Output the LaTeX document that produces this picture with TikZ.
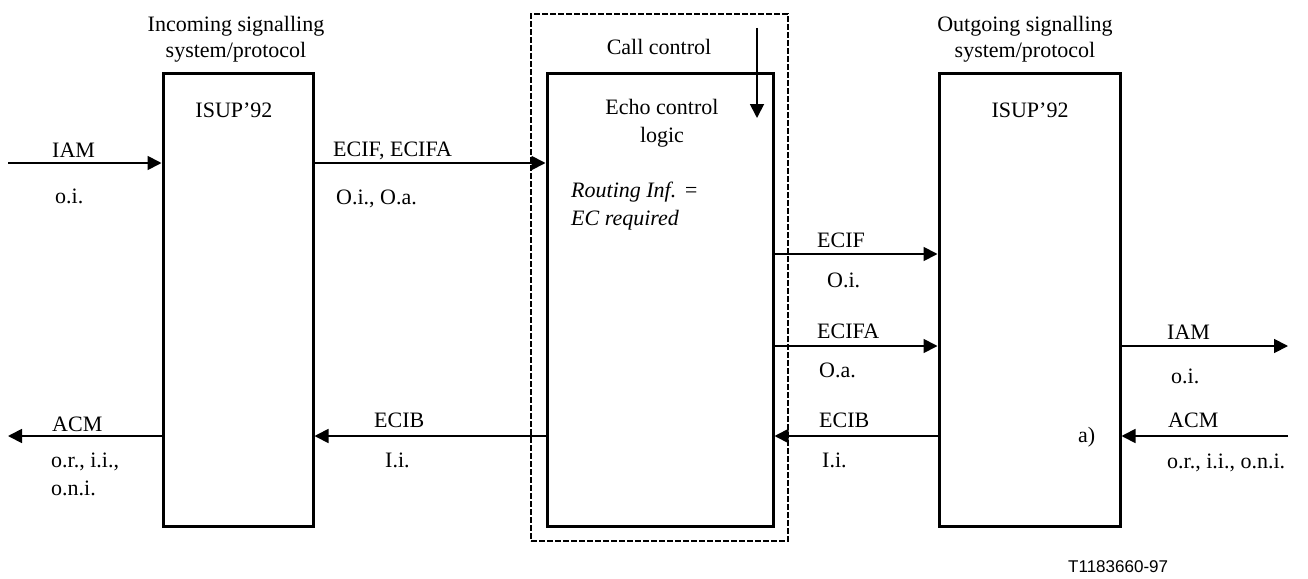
\documentclass[tikz,border=0pt]{standalone}
\usepackage{fontspec}
\setmainfont{Liberation Serif}
\newfontfamily\labsans{Liberation Sans}
\usetikzlibrary{arrows.meta}
\tikzset{
  blk/.style={draw, line width=3pt, rectangle, inner sep=0pt},
  grp/.style={draw, line width=1.2pt, dash pattern=on 6pt off 2pt, rectangle, inner sep=0pt, outer sep=0pt},
  sig/.style={line width=1.8pt, -{Triangle[length=14pt,width=14pt]}},
  lbl/.style={inner sep=0pt, anchor=base west, font=\fontsize{22}{28}\selectfont},
  ttl/.style={inner sep=0pt, anchor=base, font=\fontsize{22}{28}\selectfont},
  fig/.style={inner sep=0pt, anchor=base west, font=\labsans\fontsize{17}{20}\selectfont},
}
\begin{document}
\begin{tikzpicture}[x=1pt,y=-1pt]
\useasboundingbox (0,0) rectangle (1308,578);
% boxes
\node[grp, minimum width=257pt, minimum height=527pt] (cc) at (659.5,277.5) {};
\node[blk, minimum width=150pt, minimum height=453pt] (inb) at (238,299.5) {};
\node[blk, minimum width=226pt, minimum height=453pt] (ecl) at (660,299.5) {};
\node[blk, minimum width=181pt, minimum height=453pt] (outb) at (1029.5,299.5) {};
% free ends
\coordinate (inIAM) at (8,163);
\coordinate (outACM) at (8,436);
\coordinate (outIAM) at (1288,346);
\coordinate (inACM) at (1288,436);
\coordinate (vtop) at (757,28);
\coordinate (vend) at (757,118);
% connectors
\draw[sig] (inIAM) -- (inIAM -| inb.west);
\draw[sig] (inb.east |- 0,163) -- (ecl.west |- 0,163);
\draw[sig] (ecl.east |- 0,254) -- (outb.west |- 0,254);
\draw[sig] (ecl.east |- 0,346) -- (outb.west |- 0,346);
\draw[sig] (outb.east |- outIAM) -- (outIAM);
\draw[sig] (inACM) -- (inACM -| outb.east);
\draw[sig] (outb.west |- 0,436) -- (ecl.east |- 0,436);
\draw[sig] (ecl.west |- 0,436) -- (inb.east |- 0,436);
\draw[sig] (inb.west |- outACM) -- (outACM);
\draw[sig] (vtop) -- (vend);
% titles
\node[ttl] (t1a) at (236,32) {Incoming signalling};
\node[ttl] (t1b) at (236,57) {system/protocol};
\node[ttl] (isup1) at (234,117) {ISUP’92};
\node[ttl] (t2) at (659,55) {Call control};
\node[ttl] (ec1) at (662,114) {Echo control};
\node[ttl] (ec2) at (662,142) {logic};
\node[lbl] (ri1) at (571,197) {\itshape Routing Inf. =};
\node[lbl] (ri2) at (571,225) {\itshape EC required};
\node[ttl] (t3a) at (1025,32) {Outgoing signalling};
\node[ttl] (t3b) at (1025,58) {system/protocol};
\node[ttl] (isup2) at (1030,117) {ISUP’92};
% labels
\node[lbl] (l1) at (52,157) {IAM};
\node[lbl] (l2) at (55,203) {o.i.};
\node[lbl] (l3) at (333,156) {ECIF, ECIFA};
\node[lbl] (l4) at (336,204) {O.i., O.a.};
\node[lbl] (l5) at (52,431) {ACM};
\node[lbl] (l6) at (51,467) {o.r., i.i.,};
\node[lbl] (l7) at (51,495) {o.n.i.};
\node[lbl] (l8) at (374,427) {ECIB};
\node[lbl] (l9) at (385,467) {I.i.};
\node[lbl] (l10) at (817,247) {ECIF};
\node[lbl] (l11) at (827,287) {O.i.};
\node[lbl] (l12) at (817,338) {ECIFA};
\node[lbl] (l13) at (819,377) {O.a.};
\node[lbl] (l14) at (819,427) {ECIB};
\node[lbl] (l15) at (822,467) {I.i.};
\node[lbl] (l16) at (1167,339) {IAM};
\node[lbl] (l17) at (1171,383) {o.i.};
\node[lbl] (l18) at (1168,427) {ACM};
\node[lbl] (l19) at (1167,468) {o.r., i.i., o.n.i.};
\node[lbl] (l20) at (1078,442) {a)};
\node[fig] (fid) at (1068,572) {T1183660-97};
\end{tikzpicture}
\end{document}
